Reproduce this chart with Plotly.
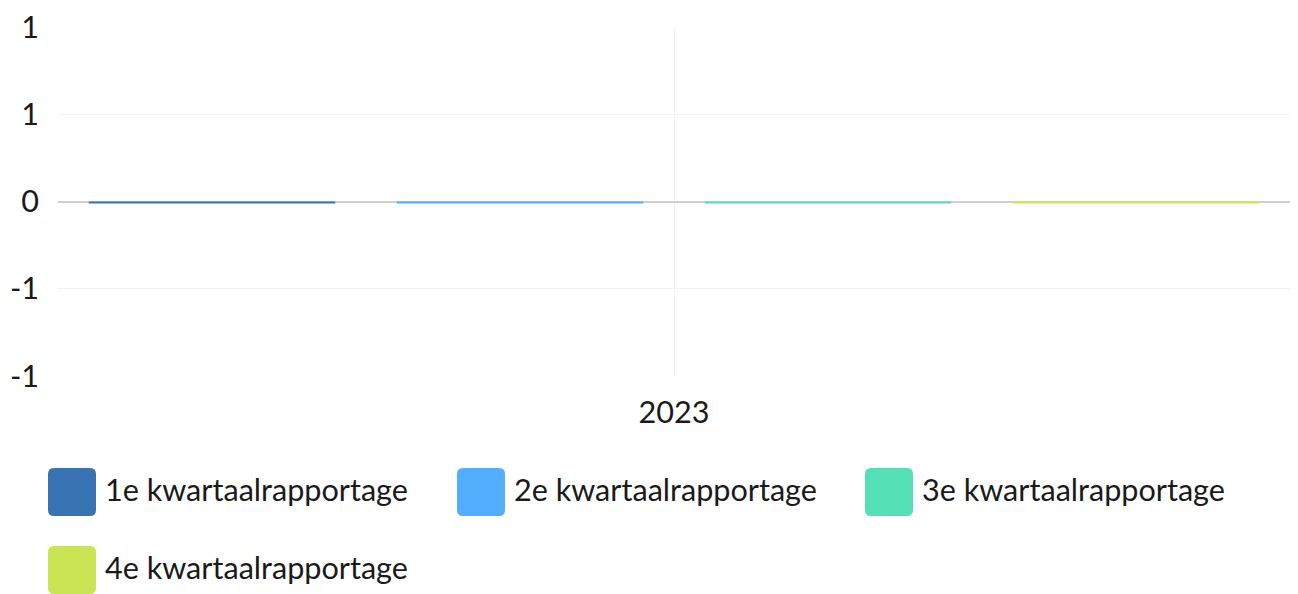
import plotly.graph_objects as go

categories = ["2023"]
series_names = ["1e kwartaalrapportage", "2e kwartaalrapportage",
                "3e kwartaalrapportage", "4e kwartaalrapportage"]
series_values = [[-0.012], [-0.012], [-0.012], [-0.012]]
colors = ["#3773b3", "#52aefc", "#55dfb4", "#c9e553"]
ytick_vals = [-1, -0.5, 0, 0.5, 1]
ytick_text = ["-1", "-1", "0", "1", "1"]

W, H = 1298, 594
OFF = 8  # page body margin
L, T = 58 - OFF, 27 - OFF
R = W - (1290 - OFF)
B = H - (376 - OFF)
pw, ph = W - L - R, H - T - B

fig = go.Figure()
for name, vals, col in zip(series_names, series_values, colors):
    fig.add_trace(go.Bar(x=categories, y=vals, name=name, marker=dict(color=col, line=dict(width=0)),
                         showlegend=False))

FONT = "Lato, 'Open Sans', sans-serif"
FS = 30.6

legend_pos = [(48, 468), (457, 468), (865, 468), (48, 546)]
shapes = []
annotations = []

def px(x):
    return (x - OFF - L) / pw

def py(y):
    return (H - B - (y - OFF)) / ph

def rr(x0, y0, w, h, r):
    return (f"M {px(x0 + r)},{py(y0)} L {px(x0 + w - r)},{py(y0)} "
            f"Q {px(x0 + w)},{py(y0)} {px(x0 + w)},{py(y0 + r)} "
            f"L {px(x0 + w)},{py(y0 + h - r)} Q {px(x0 + w)},{py(y0 + h)} {px(x0 + w - r)},{py(y0 + h)} "
            f"L {px(x0 + r)},{py(y0 + h)} Q {px(x0)},{py(y0 + h)} {px(x0)},{py(y0 + h - r)} "
            f"L {px(x0)},{py(y0 + r)} Q {px(x0)},{py(y0)} {px(x0 + r)},{py(y0)} Z")

for (x0, y0), name, col in zip(legend_pos, series_names, colors):
    shapes.append(dict(type="path", xref="paper", yref="paper", path=rr(x0, y0, 48, 48, 6),
                       fillcolor=col, line=dict(width=0), layer="above"))
    annotations.append(dict(xref="paper", yref="paper", x=px(x0 + 55), y=py(y0 + 21),
                            text=name, showarrow=False, xanchor="left", yanchor="middle",
                            font=dict(family=FONT, size=FS, color="#1a1a1a")))

fig.update_layout(
    width=W, height=H,
    margin=dict(l=L, r=R, t=T, b=B),
    paper_bgcolor="white", plot_bgcolor="white",
    barmode="group", bargap=0, bargroupgap=0.2,
    font=dict(family=FONT, size=FS, color="#1a1a1a"),
    xaxis=dict(type="category", showgrid=True, gridcolor="#f2f2f2", gridwidth=1,
               showline=False, zeroline=False, ticks="", tickfont=dict(size=FS),
               ticklabelstandoff=15, automargin=False),
    yaxis=dict(range=[-1, 1], tickvals=ytick_vals, ticktext=ytick_text, showgrid=True,
               gridcolor="#f2f2f2", zeroline=True, zerolinecolor="#d0d0d0", zerolinewidth=2,
               ticks="", ticklabelstandoff=18, tickfont=dict(size=FS), automargin=False,
               ticklabeloverflow="allow"),
    shapes=shapes, annotations=annotations,
    showlegend=False,
)

fig.write_html("out.html")
